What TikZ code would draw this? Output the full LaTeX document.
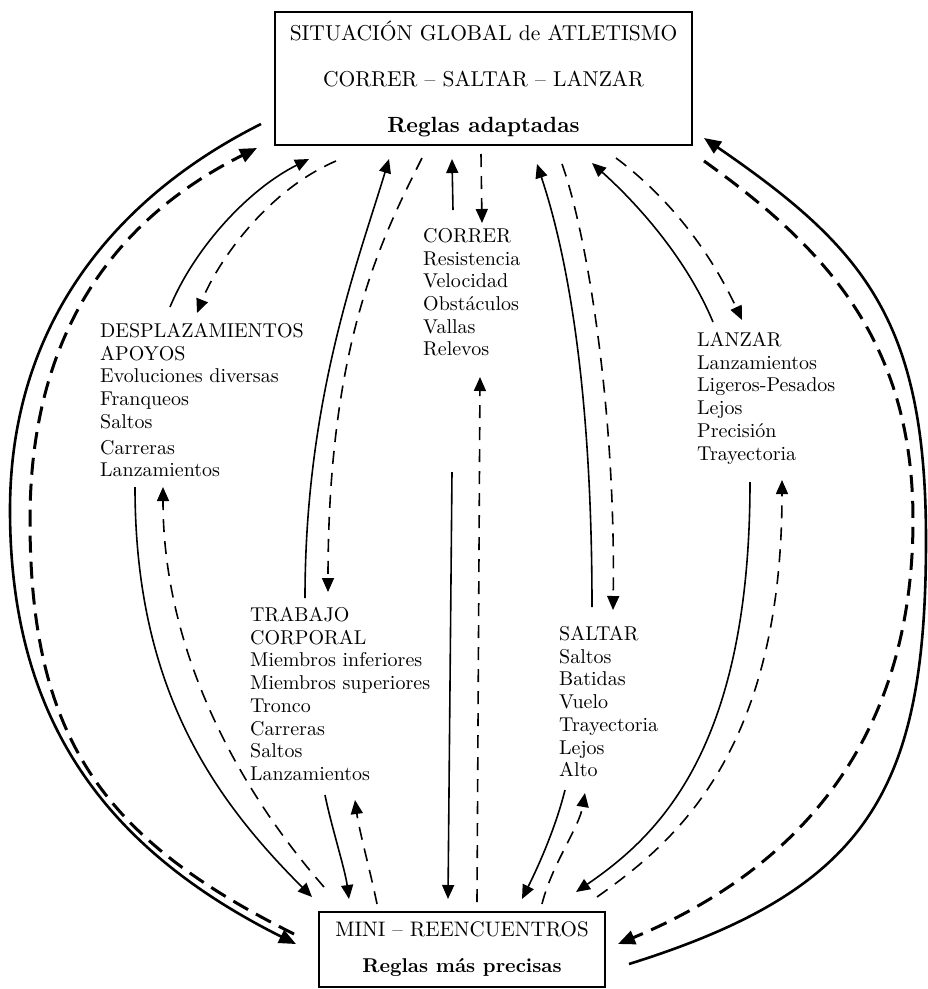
\documentclass[tikz,border=0pt]{standalone}
\usepackage{fontspec}
\setmainfont{lmroman10-regular}[Extension=.otf,BoldFont=lmroman10-bold]
\usetikzlibrary{arrows.meta,calc,positioning}
\tikzset{
style1/.style={draw,line width=2pt,rectangle,align=center,inner sep=0pt},
style2/.style={align=left,inner sep=0pt,anchor=north west,font=\fontsize{20}{22.7}\selectfont},
line1/.style={line width=1.6pt,-{Triangle[length=14pt,width=12pt]}},
line2/.style={line1,dash pattern=on 13pt off 9pt},
line3/.style={line width=2.6pt,-{Triangle[length=17pt,width=14pt]}},
line4/.style={line3,line width=3pt,dash pattern=on 17pt off 9pt}
}

\begin{document}
\begin{tikzpicture}[x=1pt,y=-1pt]
\useasboundingbox (0,0) rectangle (928,989);

% the two boxes
\node[style1,minimum width=417pt,minimum height=133pt,font=\fontsize{21.5}{46}\selectfont] (glob) at (483.5,78.5)
  {SITUACIÓN GLOBAL de ATLETISMO\\CORRER – SALTAR – LANZAR\\{\fontsize{22}{46}\selectfont\textbf{Reglas adaptadas}}};
\node[style1,minimum width=286pt,minimum height=75pt,font=\fontsize{21}{36}\selectfont] (mini) at (462,949.5)
  {MINI – REENCUENTROS\\{\fontsize{20}{36}\selectfont\textbf{Reglas más precisas}}};

% the lists
\node[style2] (desp) at (100,323) {DESPLAZAMIENTOS\\APOYOS\\Evoluciones diversas\\Franqueos\\Saltos\\[3pt]Carreras\\Lanzamientos};
\node[style2] (correr) at (423,228) {CORRER\\Resistencia\\Velocidad\\Obstáculos\\Vallas\\Relevos};
\node[style2] (lanzar) at (697,332) {LANZAR\\Lanzamientos\\Ligeros-Pesados\\Lejos\\Precisión\\Trayectoria};
\node[style2] (trab) at (250,607) {TRABAJO\\CORPORAL\\Miembros inferiores\\Miembros superiores\\Tronco\\Carreras\\Saltos\\Lanzamientos};
\node[style2] (saltar) at (559,626) {SALTAR\\Saltos\\Batidas\\Vuelo\\Trayectoria\\Lejos\\Alto};

% far points of the outer arcs
\coordinate (L1) at (10,510);
\coordinate (L2) at (30,520);
\coordinate (R1) at (926,540);
\coordinate (R2) at (913,520);

% outer arcs between the two boxes
\draw[line3] ($(glob.south west)+(-13,-22)$) .. controls +(-130,65) and +(0,-200) .. (L1)
  .. controls +(0,200) and +(-200,-100) .. ($(mini.north west)+(-22,33)$);
\draw[line4] ($(mini.north west)+(-24,23)$) .. controls +(-190,-95) and +(0,220) .. (L2)
  .. controls +(0,-200) and +(-130,65) .. ($(glob.south west)+(-17,2)$);
\draw[line3] ($(mini.north east)+(23,53)$) .. controls +(240,-75) and +(0,250) .. (R1)
  .. controls +(0,-220) and +(160,110) .. ($(glob.south east)+(11,-8)$);
\draw[line4] ($(glob.south east)+(11,15)$) .. controls +(120,86) and +(0,-180) .. (R2)
  .. controls +(0,220) and +(180,-75) .. ($(mini.north east)+(12,33)$);

% lists and top box
\draw[line1] ($(desp.north west)+(70,-16)$) .. controls +(25,-60) and +(-60,30) .. ($(glob.south west)+(35,13)$);
\draw[line2] ($(glob.south west)+(62,15)$) .. controls +(-70,30) and +(20,-50) .. ($(desp.north west)+(97,-10)$);
\draw[line1] ($(trab.north west)+(55,-9)$) .. controls +(0,-200) and +(-30,100) .. ($(glob.south west)+(115,13)$);
\draw[line2] ($(glob.south west)+(148,12)$) .. controls +(-40,80) and +(0,-250) .. ($(trab.north west)+(78,-15)$);
\draw[line1] ($(correr.north west)+(30,-18)$) -- ($(glob.south west)+(178,13)$);
\draw[line2] ($(glob.south west)+(207,8)$) -- ($(correr.north west)+(59,-5)$);
\draw[line1] ($(saltar.north west)+(33,-19)$) .. controls +(0,-220) and +(30,90) .. ($(glob.south west)+(263,18)$);
\draw[line2] ($(glob.south west)+(288,18)$) .. controls +(25,70) and +(3,-200) .. ($(saltar.north west)+(54,-16)$);
\draw[line1] ($(lanzar.north west)+(16,-10)$) .. controls +(-25,-60) and +(50,45) .. ($(glob.south west)+(318,17)$);
\draw[line2] ($(glob.south west)+(342,12)$) .. controls +(60,45) and +(-28,-60) .. ($(lanzar.north west)+(45,-12)$);

% lists and bottom box
\draw[line1] ($(desp.north west)+(35,164)$) .. controls +(0,200) and +(-100,-100) .. ($(mini.north west)+(-6,-14)$);
\draw[line2] ($(mini.north west)+(6,-24)$) .. controls +(-70,-80) and +(0,180) .. ($(desp.north west)+(63,164)$);
\draw[line1] ($(trab.north west)+(75,188)$) .. controls +(6,30) and +(-4,-30) .. ($(mini.north west)+(31,-12)$);
\draw[line2] ($(mini.north west)+(59,-7)$) .. controls +(-6,-30) and +(4,30) .. ($(trab.north west)+(105,193)$);
\draw[line1] ($(correr.north west)+(29,244)$) -- ($(mini.north west)+(130,-12)$);
\draw[line2] ($(mini.north west)+(159,-9)$) -- ($(correr.north west)+(57,149)$);
\draw[line1] ($(saltar.north west)+(6,164)$) .. controls +(-10,40) and +(15,-30) .. ($(mini.north west)+(204,-12)$);
\draw[line2] ($(mini.north west)+(224,-7)$) .. controls +(10,-40) and +(-6,35) .. ($(saltar.north west)+(26,167)$);
\draw[line1] ($(lanzar.north west)+(53,150)$) .. controls +(0,270) and +(80,-55) .. ($(mini.north west)+(258,-19)$);
\draw[line2] ($(mini.north west)+(279,-14)$) .. controls +(70,-50) and +(0,280) .. ($(lanzar.north west)+(85,148)$);

\end{tikzpicture}
\end{document}
